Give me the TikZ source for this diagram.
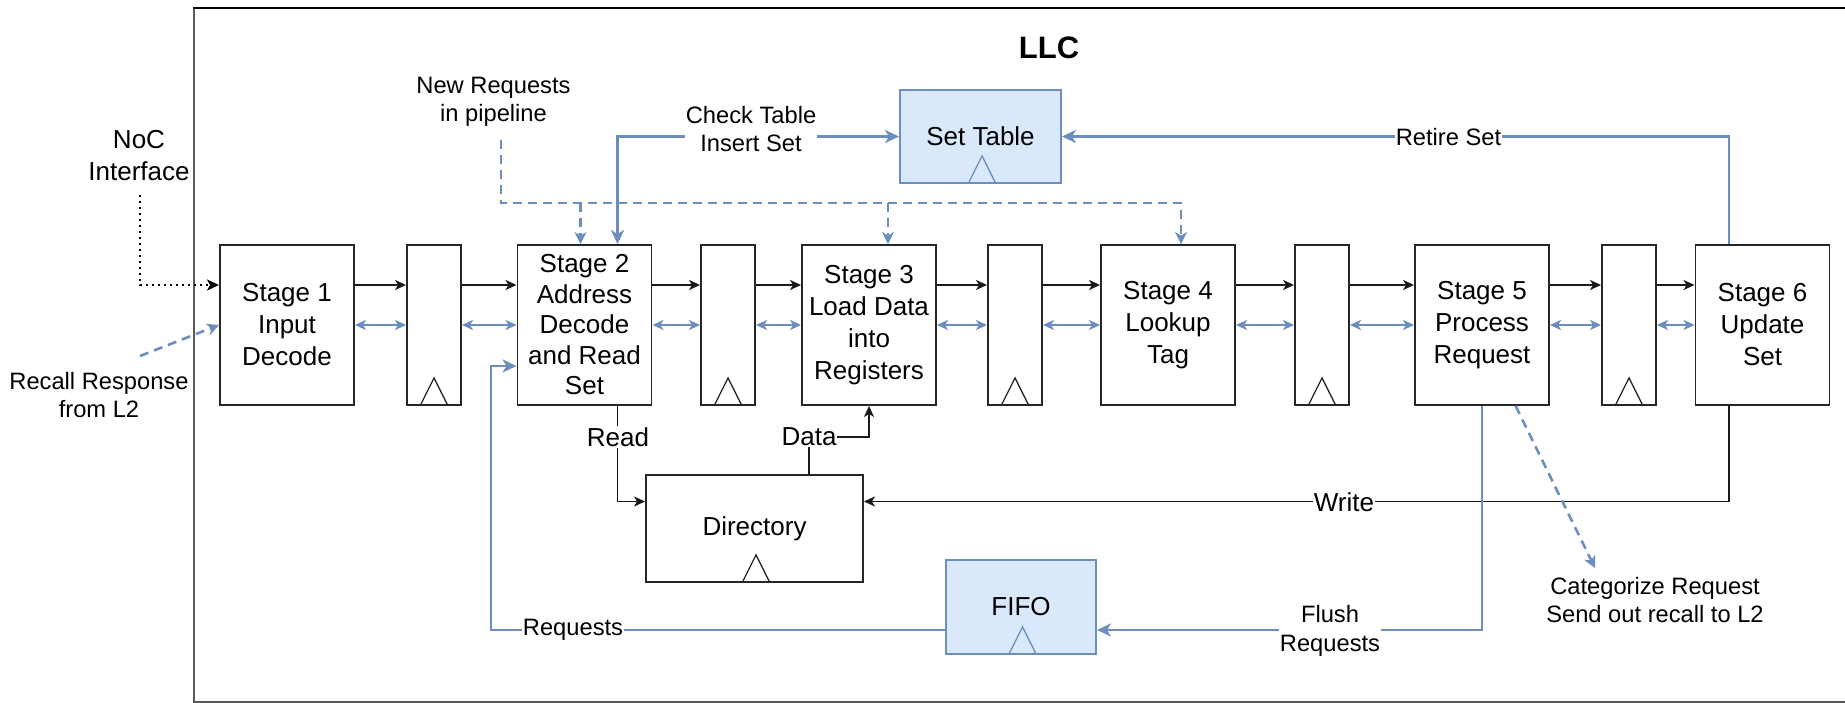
\documentclass[tikz,border=0pt]{standalone}
\usepackage{fontspec}
\setmainfont{Liberation Sans}
\usetikzlibrary{arrows.meta,calc}

\definecolor{edgeblue}{HTML}{6C8EBF}
\definecolor{fillblue}{HTML}{DAE8FC}

% small clock mark at the bottom edge of a register/memory block
\newcommand\clocktri[2]{\draw[#1,line width=1.3pt] ($(#2)+(-14,0)$) -- ($(#2)+(0,-28)$) -- ($(#2)+(14,0)$);}

\begin{document}
\begin{tikzpicture}[x=1pt,y=-1pt,
  big/.style={font=\fontsize{26}{32}\selectfont},
  small/.style={font=\fontsize{23.7}{28.5}\selectfont},
  stagebox/.style={draw=black!85,line width=1.9pt,minimum width=134pt,minimum height=160pt,inner sep=0pt,align=center,big},
  regbox/.style={draw=black!85,line width=1.9pt,minimum width=54pt,minimum height=160pt,inner sep=0pt},
  memblk/.style={draw=black!85,line width=1.9pt,inner sep=0pt,big},
  bluebox/.style={draw=edgeblue,fill=fillblue,line width=1.9pt,inner sep=0pt,big},
  lbl/.style={fill=white,inner sep=1pt,align=center},
  txt/.style={inner sep=1pt,align=center},
  blk/.style={draw=black!90,line width=1.8pt,-{Stealth[length=11pt,width=10pt,inset=3pt]}},
  bluethin/.style={draw=edgeblue,line width=2pt,{Stealth[length=11pt,width=10pt,inset=3pt]}-{Stealth[length=11pt,width=10pt,inset=3pt]}},
  bluethick/.style={draw=edgeblue,line width=2.8pt,-{Stealth[length=14pt,width=13pt,inset=4pt]}},
  bluethickboth/.style={draw=edgeblue,line width=2.8pt,{Stealth[length=14pt,width=13pt,inset=4pt]}-{Stealth[length=14pt,width=13pt,inset=4pt]}},
  bluedash/.style={draw=edgeblue,line width=2.6pt,dash pattern=on 9pt off 6pt},
  bluedasharr/.style={bluedash,-{Stealth[length=12pt,width=12pt,inset=3.5pt]}},
  nocdot/.style={draw=black,line width=2.6pt,dash pattern=on 2pt off 4pt,-{Stealth[length=12pt,width=11pt,inset=3pt]}}
]
\useasboundingbox (0,0) rectangle (1845,703);

% LLC enclosure (open towards the right edge)
\draw[black!65,line width=2.2pt] (194,8) -- (194,702) -- (1845,702);
\draw[black,line width=2.2pt] (193,8) -- (1845,8);
\node[font=\fontsize{31}{36}\selectfont\bfseries] (llc) at (1049,48) {LLC};

% pipeline stages and registers
\node[stagebox] (s1) at (287,325) {Stage 1\\Input\\Decode};
\node[regbox] (r1) at (434,325) {};
\node[stagebox,font=\fontsize{26}{30.5}\selectfont] (s2) at (584.5,325) {Stage 2\\Address\\Decode\\and Read\\Set};
\node[regbox] (r2) at (728,325) {};
\node[stagebox] (s3) at (869,325) {Stage 3\\Load Data\\into\\Registers};
\node[regbox] (r3) at (1015,325) {};
\node[stagebox] (s4) at (1168,325) {Stage 4\\Lookup\\Tag};
\node[regbox] (r4) at (1322,325) {};
\node[stagebox] (s5) at (1482,325) {Stage 5\\Process\\Request};
\node[regbox] (r5) at (1629,325) {};
\node[stagebox] (s6) at (1762.5,325) {Stage 6\\Update\\Set};

\clocktri{black!85}{r1.south}
\clocktri{black!85}{r2.south}
\clocktri{black!85}{r3.south}
\clocktri{black!85}{r4.south}
\clocktri{black!85}{r5.south}

% storage blocks
\node[bluebox,minimum width=161pt,minimum height=93pt] (settab) at (980.5,136.5) {Set Table};
\node[memblk,minimum width=217pt,minimum height=107pt] (dir) at (754.5,528.5) {Directory};
\node[bluebox,minimum width=150pt,minimum height=94pt] (fifo) at (1021,607) {FIFO};
\clocktri{edgeblue}{[xshift=1.5pt]settab.south}
\clocktri{black!85}{[xshift=1.5pt]dir.south}
\clocktri{edgeblue}{[xshift=1.5pt]fifo.south}

% forward data path
\foreach \a/\b in {s1/r1,r1/s2,s2/r2,r2/s3,s3/r3,r3/s4,s4/r4,r4/s5,s5/r5,r5/s6}{
  \draw[blk] ([yshift=40pt]\a.east) -- ([yshift=40pt]\b.west);
  \draw[bluethin] (\a.east) -- (\b.west);
}

% external inputs
\node[txt,big] (noc) at (139,156) {NoC\\Interface};
\coordinate (nocst) at (140,195);
\draw[nocdot] (nocst) |- ([yshift=40pt]s1.west);

\node[txt,small] (recall) at (99,395) {Recall Response\\from L2};
\coordinate (recst) at (140,356);
\draw[bluedasharr] (recst) -- (s1.west);

% new requests broadcast
\node[txt,small] (newreq) at (493.5,102) {New Requests\\in pipeline};
\coordinate (nrs) at (501,140);
\coordinate (nrc) at (501,203);
\coordinate (nr2) at (580.5,203);
\coordinate (nr3) at (888,203);
\coordinate (nr4) at (1181,203);
\draw[bluedasharr] (nrs) -- (nrc) -- (nr4) -- (nr4 |- s4.north);
\draw[bluedasharr] (nr2) -- (nr2 |- s2.north);
\draw[bluedasharr] (nr3) -- (nr3 |- s3.north);

% set table access
\draw[bluethickboth] ([xshift=33pt]s2.north) |- (settab.west);
\node[lbl,small] (cklbl) at (751,129) {Check Table\\Insert Set};
\draw[bluethick] ([xshift=-33.5pt]s6.north) |- (settab.east);
\node[lbl,small] (retlbl) at (1448.5,137) {Retire Set};

% directory access
\draw[blk] ([xshift=33pt]s2.south) |- ([yshift=27pt]dir.west);
\node[lbl,big] (readlbl) at (618,437) {Read};
\coordinate (datapt) at (809,437);
\draw[blk] ([xshift=54.5pt]dir.north) -- (datapt) -| (s3.south);
\node[lbl,big] (datalbl) at (datapt) {Data};
\draw[blk] ([xshift=-33.5pt]s6.south) |- ([yshift=27pt]dir.east);
\node[lbl,big] (writelbl) at (1344,502) {Write};

% recall / flush path
\draw[bluethick] (s5.south) |- ([yshift=-23pt]fifo.east);
\node[lbl,small] (flushlbl) at (1330,631) {Flush\\Requests};
\coordinate (rqx) at (491,500);
\draw[bluethick] ([yshift=-23pt]fifo.west) -| (rqx) |- ([yshift=-41pt]s2.west);
\node[lbl,small] (reqlbl) at (573,630) {Requests};

\node[txt,small] (cat) at (1655,600) {Categorize Request\\Send out recall to L2};
\coordinate (catend) at (1595,568);
\draw[bluedasharr] ([xshift=33.6pt]s5.south) -- (catend);

\end{tikzpicture}
\end{document}
